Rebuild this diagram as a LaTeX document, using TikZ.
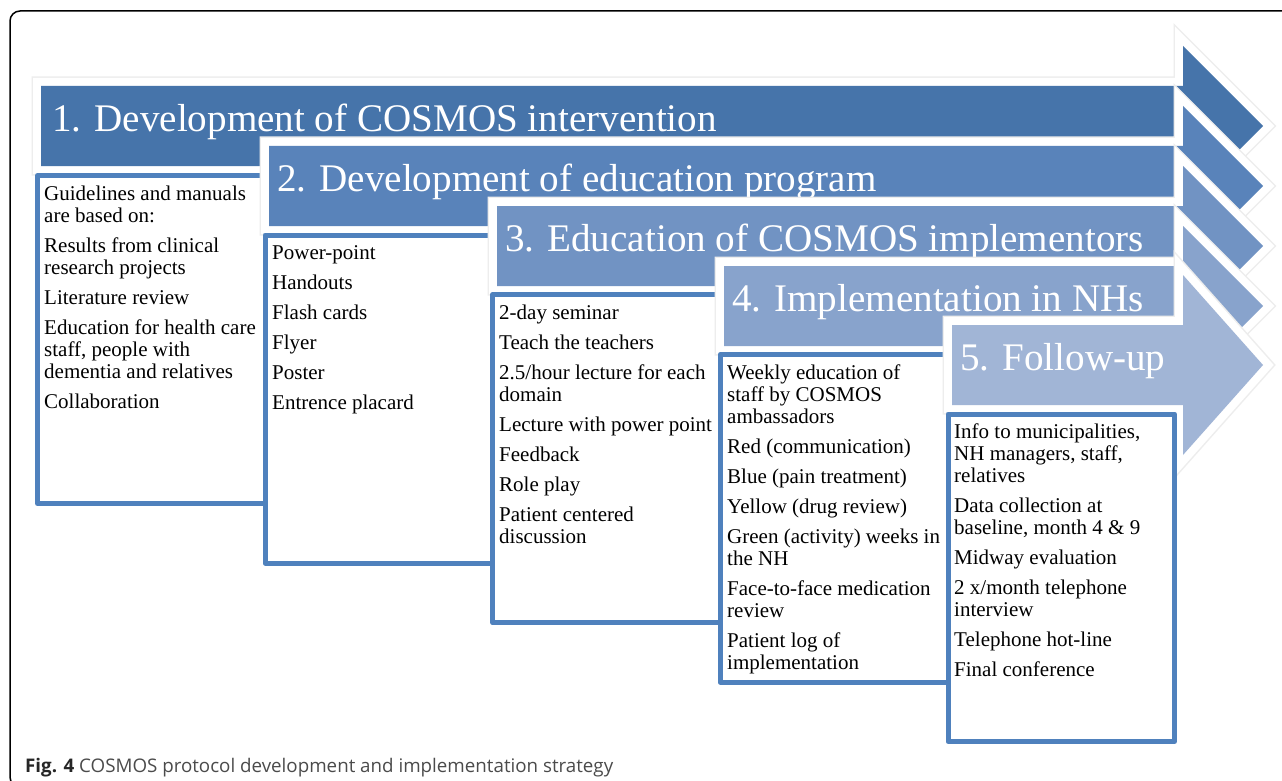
\documentclass[tikz,border=0pt]{standalone}
\usepackage{fontspec}
\setmainfont{Liberation Serif}
\newfontfamily\capfont{Open Sans}
\definecolor{aone}{RGB}{70,116,170}
\definecolor{atwo}{RGB}{89,131,186}
\definecolor{athree}{RGB}{113,147,195}
\definecolor{afour}{RGB}{136,163,204}
\definecolor{afive}{RGB}{161,181,214}
\definecolor{boxblue}{RGB}{79,129,189}
\definecolor{capgray}{RGB}{75,75,75}
\tikzset{
  arrowglow/.style={draw=black!7, line width=19pt, line join=miter},
  arrowwhite/.style={draw=white, fill=white, line width=16pt, line join=miter},
  titletext/.style={inner sep=0pt, text=white, font=\fontsize{39.1}{47}\selectfont, anchor=base west},
  itemframe/.style={draw=boxblue, line width=5pt, line join=round},
  itemtext/.style={inner sep=0pt, anchor=north west, align=left, font=\fontsize{21}{22}\selectfont},
}
% #1 left, #2 top, #3 half head height, #4 colour
\newcommand{\stagearrow}[4]{%
  \path[arrowglow] ({#1},{#2}) -- (1183,{#2}) -- (1183,{#2+40-#3}) -- (1263,{#2+40}) -- (1183,{#2+40+#3}) -- (1183,{#2+80}) -- ({#1},{#2+80}) -- cycle;
  \path[arrowwhite] ({#1},{#2}) -- (1183,{#2}) -- (1183,{#2+40-#3}) -- (1263,{#2+40}) -- (1183,{#2+40+#3}) -- (1183,{#2+80}) -- ({#1},{#2+80}) -- cycle;
  \fill[#4] ({#1},{#2}) -- (1183,{#2}) -- (1183,{#2+40-#3}) -- (1263,{#2+40}) -- (1183,{#2+40+#3}) -- (1183,{#2+80}) -- ({#1},{#2+80}) -- cycle;
}
\newcommand{\gap}{\\[8pt]}
\newcommand{\firstline}{\rule{0pt}{17pt}}
\begin{document}
\begin{tikzpicture}[x=1pt,y=-1pt]
\useasboundingbox (0,0) rectangle (1282,781);
\clip (0,0) rectangle (1282,781);
\fill[white] (0,0) rectangle (1282,781);
\draw[line width=1.5pt, rounded corners=10pt] (10,11) rectangle (1300,787);

% stage 1
\stagearrow{41}{86}{80}{aone}
\node[titletext] (t1) at (52,131.5) {1. Development of COSMOS intervention};
\draw[itemframe] (37.5,175.5) rectangle (265,503.5);
\node[itemtext] (l1) at (44,183) {\firstline Guidelines and manuals\\are based on:\gap
Results from clinical\\research projects\gap
Literature review\gap
Education for health care\\staff, people with\\dementia and relatives\gap
Collaboration};

% stage 2
\stagearrow{269}{146}{80}{atwo}
\node[titletext] (t2) at (277,191.5) {2. Development of education program};
\draw[itemframe] (265,235) rectangle (492.7,563);
\node[itemtext] (l2) at (272,242.5) {\firstline Power-point\gap
Handouts\gap
Flash cards\gap
Flyer\gap
Poster\gap
Entrence placard};

% stage 3
\stagearrow{497}{206}{80}{athree}
\node[titletext] (t3) at (505,251.5) {3. Education of COSMOS implementors};
\draw[itemframe] (492.7,294.7) rectangle (720.3,622.7);
\node[itemtext] (l3) at (499,302.2) {\firstline 2-day seminar\gap
Teach the teachers\gap
2.5/hour lecture for each\\domain\gap
Lecture with power point\gap
Feedback\gap
Role play\gap
Patient centered\\discussion};

% stage 4
\stagearrow{724}{266}{80}{afour}
\node[titletext] (t4) at (732,311.5) {4. Implementation in NHs};
\draw[itemframe] (720.3,354.3) rectangle (948,682.3);
\node[itemtext] (l4) at (727,361.8) {\firstline Weekly education of\\staff by COSMOS\\ambassadors\gap
Red (communication)\gap
Blue (pain treatment)\gap
Yellow (drug review)\gap
Green (activity) weeks in\\the NH\gap
Face-to-face medication\\review\gap
Patient log of\\implementation};

% stage 5
\stagearrow{952}{325}{90}{afive}
\node[titletext] (t5) at (960,370.5) {5. Follow-up};
\draw[itemframe] (948,414) rectangle (1174.5,741.5);
\node[itemtext] (l5) at (954,421.5) {\firstline Info to municipalities,\\NH managers, staff,\\relatives\gap
Data collection at\\baseline, month 4 \& 9\gap
Midway evaluation\gap
2 x/month telephone\\interview\gap
Telephone hot-line\gap
Final conference};

% caption
\node[inner sep=0pt, anchor=base west, font=\capfont\fontsize{18.75}{22}\selectfont, text=capgray] (cap) at (25,772.5) {\textcolor{black!85}{\bfseries Fig. 4} COSMOS protocol development and implementation strategy};
\end{tikzpicture}
\end{document}
